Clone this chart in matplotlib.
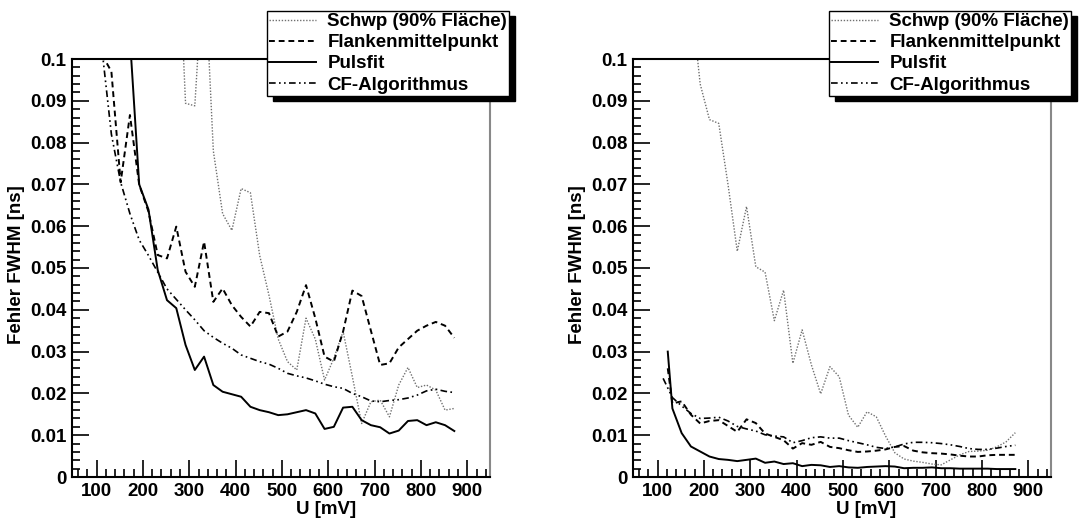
import matplotlib
matplotlib.use('Agg')
import matplotlib.pyplot as plt
from matplotlib.ticker import MultipleLocator, FuncFormatter
from matplotlib.patches import Rectangle

plt.rcParams['font.family'] = ['Liberation Sans', 'DejaVu Sans']
plt.rcParams['font.weight'] = 'bold'
plt.rcParams['font.size'] = 13.5

# pulse height U [mV]
u = [112, 132, 152, 172, 192, 212, 232, 252, 272, 292,
     312, 332, 352, 372, 392, 412, 432, 452, 472, 492,
     512, 532, 552, 572, 592, 612, 632, 652, 672, 692,
     712, 732, 752, 772, 792, 812, 832, 852, 872]

labels = ['Schwp (90% Fläche)', 'Flankenmittelpunkt', 'Pulsfit', 'CF-Algorithmus']

# ---- left panel: error FWHM [ns]
u_l_schwp = u[8:]
l_schwp = [0.14, 0.0894, 0.0888, 0.125, 0.078, 0.063, 0.059, 0.069, 0.068, 0.053,
           0.0435, 0.033, 0.0276, 0.0256, 0.038, 0.033, 0.0232, 0.0284, 0.0348, 0.024,
           0.0128, 0.018, 0.0184, 0.0144, 0.022, 0.0262, 0.0214, 0.022, 0.0208, 0.016,
           0.0164]
l_flanke = [0.101, 0.097, 0.0705, 0.0866, 0.0699, 0.0635, 0.0531, 0.0523, 0.0599, 0.0491,
            0.0455, 0.0563, 0.0419, 0.0451, 0.0411, 0.0383, 0.036, 0.0395, 0.0392, 0.0336,
            0.0348, 0.0395, 0.0459, 0.038, 0.0288, 0.0276, 0.0348, 0.0446, 0.0433, 0.035,
            0.0268, 0.0272, 0.031, 0.033, 0.035, 0.0362, 0.0371, 0.0362, 0.0333]
u_l_puls = u[2:]
l_puls = [0.16, 0.105, 0.070, 0.064, 0.0495, 0.0423, 0.0404, 0.0316,
          0.0256, 0.0288, 0.022, 0.0204, 0.0198, 0.0192, 0.0168, 0.016, 0.0155, 0.0148,
          0.015, 0.0155, 0.016, 0.0152, 0.0115, 0.012, 0.0166, 0.0168, 0.0136, 0.0124,
          0.0119, 0.0104, 0.0111, 0.0134, 0.0136, 0.0124, 0.0131, 0.0124, 0.011]
l_cf = [0.102, 0.082, 0.0705, 0.063, 0.0567, 0.053, 0.049, 0.045, 0.0425, 0.040,
        0.0376, 0.035, 0.0334, 0.032, 0.0308, 0.0292, 0.0284, 0.0276, 0.027, 0.026,
        0.0248, 0.0242, 0.0237, 0.023, 0.0222, 0.0216, 0.0212, 0.020, 0.0192, 0.0182,
        0.018, 0.0183, 0.0185, 0.0189, 0.0196, 0.0206, 0.021, 0.0205, 0.0202]

# ---- right panel
u_r_schwp = u[3:]
r_schwp = [0.115, 0.094, 0.0855, 0.0846, 0.070, 0.054, 0.0647, 0.0503,
           0.049, 0.0374, 0.0447, 0.0272, 0.0352, 0.0268, 0.0199, 0.0264, 0.024, 0.0148,
           0.0119, 0.0156, 0.0144, 0.0098, 0.0058, 0.0043, 0.0038, 0.0035, 0.0031, 0.0029,
           0.0041, 0.0053, 0.0061, 0.0062, 0.0064, 0.0072, 0.0084, 0.0106]
u_r_late = [122] + u[1:]
r_flanke = [0.026, 0.0176, 0.0181, 0.0149, 0.0128, 0.0134, 0.0136, 0.0122, 0.0108, 0.0138,
            0.0129, 0.0104, 0.0096, 0.0088, 0.0068, 0.0081, 0.0077, 0.0084, 0.0072, 0.0069,
            0.0064, 0.006, 0.0061, 0.0063, 0.0066, 0.0072, 0.0074, 0.0063, 0.0059, 0.0057,
            0.0056, 0.0054, 0.0051, 0.0049, 0.0049, 0.0052, 0.0053, 0.0053, 0.0053]
r_puls = [0.030, 0.0164, 0.0105, 0.0073, 0.0061, 0.0049, 0.0043, 0.0041, 0.0038, 0.0041,
          0.0044, 0.0034, 0.0037, 0.0031, 0.0033, 0.0026, 0.0029, 0.0028, 0.0024, 0.0026,
          0.0023, 0.0022, 0.0024, 0.0025, 0.0026, 0.0025, 0.0021, 0.0022, 0.0022, 0.0023,
          0.0021, 0.0021, 0.002, 0.002, 0.002, 0.002, 0.0019, 0.0019, 0.0019]
r_cf = [0.0236, 0.019, 0.017, 0.0152, 0.014, 0.0141, 0.0143, 0.0134, 0.0121, 0.0115,
        0.011, 0.0101, 0.0098, 0.0096, 0.0082, 0.0087, 0.0094, 0.0096, 0.0093, 0.0093,
        0.0087, 0.0082, 0.0077, 0.0071, 0.0068, 0.0072, 0.0079, 0.0083, 0.0083, 0.0082,
        0.008, 0.0077, 0.0073, 0.0068, 0.0066, 0.0066, 0.0069, 0.0073, 0.0076]

W, H = 1081, 521
fig = plt.figure(figsize=(W / 100, H / 100), dpi=100)

def fx(px):
    return px / W

def fy(py):
    return 1 - py / H

ax1 = fig.add_axes([fx(72), fy(477), fx(418), 418 / H])
ax2 = fig.add_axes([fx(633), fy(477), fx(418), 418 / H])

s_dot = dict(color='#707070', lw=1.0, ls=(0, (1, 1.2)))
s_dash = dict(color='black', lw=1.4, ls=(0, (3, 2)))
s_solid = dict(color='black', lw=1.4, ls='-')
s_cf = dict(color='black', lw=1.2, ls=(0, (4, 2, 1, 2, 1, 2)))

ax1.plot(u_l_schwp, l_schwp, **s_dot)
ax1.plot(u, l_flanke, **s_dash)
ax1.plot(u_l_puls, l_puls, **s_solid)
ax1.plot(u, l_cf, **s_cf)

ax2.plot(u_r_schwp, r_schwp, **s_dot)
ax2.plot(u_r_late, r_flanke, **s_dash)
ax2.plot(u_r_late, r_puls, **s_solid)
ax2.plot(u, r_cf, **s_cf)

fmt = FuncFormatter(lambda v, p: '%g' % round(v, 3))
for ax, lx, ux in [(ax1, 17, 326), (ax2, 578, 866)]:
    ax.set_xlim(47, 949)
    ax.set_ylim(0, 0.1)
    ax.xaxis.set_major_locator(MultipleLocator(100))
    ax.xaxis.set_minor_locator(MultipleLocator(20))
    ax.yaxis.set_major_locator(MultipleLocator(0.01))
    ax.yaxis.set_minor_locator(MultipleLocator(0.002))
    ax.yaxis.set_major_formatter(fmt)
    ax.tick_params(which='both', direction='in', top=False, right=False, width=1.2)
    ax.tick_params(which='major', length=12, pad=4)
    ax.tick_params(which='minor', length=6)
    for sp in ['left', 'bottom', 'top']:
        ax.spines[sp].set_linewidth(1.5)
    ax.spines['right'].set_color('#888888')
    ax.spines['right'].set_linewidth(1.5)
    fig.text(fx(lx), fy(265), 'Fehler FWHM [ns]', rotation=90, ha='center', va='center')
    fig.text(fx(ux), fy(509), 'U [mV]', ha='center', va='center')

# legends with ROOT-like black shadow
for ax, x0 in [(ax1, 267), (ax2, 829)]:
    leg = fig.legend(ax.get_lines(), labels, loc='upper left',
                     bbox_to_anchor=(fx(x0), fy(11)), fancybox=False,
                     edgecolor='black', framealpha=1, borderaxespad=0,
                     handlelength=2.5, handletextpad=0.6, labelspacing=0.21,
                     borderpad=0.12)
    leg.get_frame().set_linewidth(1.0)
    fig.canvas.draw()
    bb = leg.get_window_extent().transformed(fig.transFigure.inverted())
    fig.patches.append(Rectangle((bb.x0 + fx(6), bb.y0 - 5 / H), bb.width, bb.height,
                                 transform=fig.transFigure, color='black', zorder=4))

plt.savefig('out.png', dpi=100)
